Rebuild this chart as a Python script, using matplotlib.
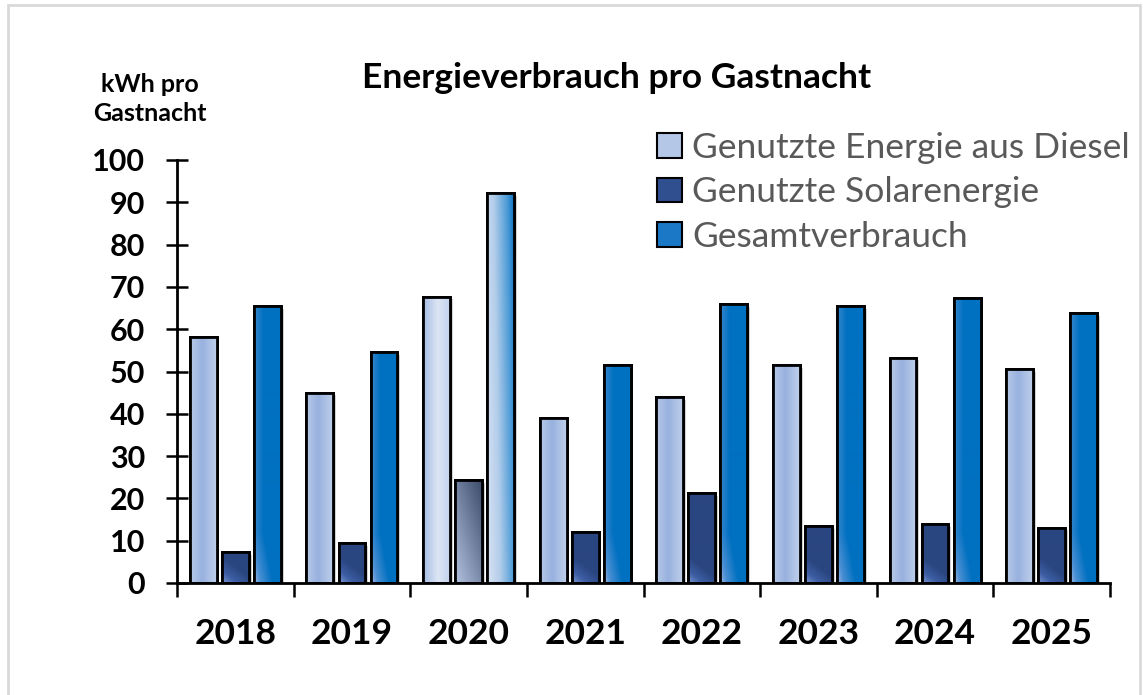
import numpy as np
import matplotlib.pyplot as plt
import matplotlib.patheffects as pe
from matplotlib.colors import LinearSegmentedColormap
from matplotlib.patches import Rectangle, Patch

plt.rcParams['font.family'] = ['Lato', 'DejaVu Sans']

jahre = ['2018', '2019', '2020', '2021', '2022', '2023', '2024', '2025']
diesel = [58.2, 45.0, 67.7, 38.9, 44.0, 51.5, 53.3, 50.6]
solar = [7.3, 9.5, 24.3, 12.1, 21.3, 13.5, 13.9, 13.1]
gesamt = [65.5, 54.5, 92.1, 51.5, 66.0, 65.5, 67.4, 63.8]
serien = ['Genutzte Energie aus Diesel', 'Genutzte Solarenergie', 'Gesamtverbrauch']
hervorgehoben = '2020'

# colour maps for the gradient fills
cm_diesel = LinearSegmentedColormap.from_list('d', ['#bccde9', '#98b1df'])
cm_diesel_h = LinearSegmentedColormap.from_list('dh', [(0, '#a4bbe4'), (0.55, '#dce5f4'), (1, '#c3d2ee')])
cm_solar = LinearSegmentedColormap.from_list('s', [(0, '#7d98d2'), (0.45, '#3d5ea4'), (1, '#2a4680')])
cm_solar_h = LinearSegmentedColormap.from_list('sh', ['#b4c3e0', '#3c4a6b'])
cm_gesamt = LinearSegmentedColormap.from_list('g', [(0, '#a3b9e3'), (0.35, '#4a8fd3'), (1, '#0070c0')])
cm_gesamt_h = LinearSegmentedColormap.from_list('gh', [(0, '#dae3f3'), (0.4, '#b2cdea'), (0.8, '#4a9ad6'), (1, '#0e72c0')])


def verlauf(art, w, h, hl):
    w = max(int(round(w)), 2)
    h = max(int(round(h)), 2)
    x, y = np.meshgrid(np.arange(w) + 0.5, np.arange(h) + 0.5)
    u = x / w
    if art == 0:
        t = 1 - np.abs(u - 0.45) * 2 if not hl else u
        cm = cm_diesel_h if hl else cm_diesel
    elif art == 1:
        if hl:
            t = (x + 0.3 * y) / (w + 0.3 * h)
            cm = cm_solar_h
        else:
            t = (x + 1.3 * y) / (1.3 * w)
            cm = cm_solar
    else:
        if hl:
            t = u * 0.8 + 0.2 * y / h
            cm = cm_gesamt_h
        else:
            t = 1.4 * u + np.minimum(y / 100, 0.5)
            cm = cm_gesamt
    return cm(np.clip(t, 0, 1))


fig = plt.figure(figsize=(11.43, 6.95), dpi=100)
ax = fig.add_axes([177 / 1143, 1 - 583 / 695, 933 / 1143, 423 / 695])
ax.set_xlim(0, len(jahre))
ax.set_ylim(0, 100)

# frame around the chart
fig.add_artist(Rectangle((8 / 1143, -0.05), 1132 / 1143, 1.043, transform=fig.transFigure,
                         fill=False, edgecolor='#d9d9d9', lw=2))

breite = 0.23
abstand = 0.275
x = np.arange(len(jahre)) + 0.5
mittel = ['#aabfe4', '#34559a', '#2a7fcb']
schatten = [pe.SimplePatchShadow(offset=(2, -2), shadow_rgbFace='#808080', alpha=0.35), pe.Normal()]

fig.canvas.draw()
px_x = ax.transData.transform((1, 0))[0] - ax.transData.transform((0, 0))[0]
px_y = ax.transData.transform((0, 1))[1] - ax.transData.transform((0, 0))[1]

for k, werte in enumerate([diesel, solar, gesamt]):
    pos = x + (k - 1) * abstand
    bars = ax.bar(pos, werte, breite, color=mittel[k], edgecolor='black', lw=2,
                  zorder=2, path_effects=schatten)
    for i, b in enumerate(bars):
        hl = jahre[i] == hervorgehoben
        img = verlauf(k, breite * px_x, werte[i] * px_y, hl)
        im = ax.imshow(img, extent=[pos[i] - breite / 2, pos[i] + breite / 2, 0, werte[i]],
                       origin='lower', aspect='auto', zorder=2.5, interpolation='bilinear')
        im.set_clip_path(b)
    ax.bar(pos, werte, breite, fill=False, edgecolor='black', lw=2, zorder=3)

ax.set_xlim(0, len(jahre))
ax.set_ylim(0, 100)

for s in ['top', 'right']:
    ax.spines[s].set_visible(False)
for s in ['left', 'bottom']:
    ax.spines[s].set_linewidth(2)

ax.set_yticks(range(0, 101, 10))
ax.tick_params(axis='y', direction='inout', length=16, width=1.8, pad=15, labelsize=22)
for t in ax.get_yticklabels():
    t.set_fontweight('bold')

ax.set_xticks(x)
ax.set_xticklabels(jahre, fontsize=25.5, fontweight='bold')
ax.set_xticks(range(len(jahre) + 1), minor=True)
ax.tick_params(axis='x', which='major', length=0, pad=25)
ax.tick_params(axis='x', which='minor', direction='out', length=10, width=1.8)

fig.text(150 / 1143, 1 - 99 / 695, 'kWh pro\nGastnacht', ha='center', va='center',
         fontsize=18, fontweight='bold', linespacing=1.35)
fig.text(617 / 1143, 1 - 78 / 695, 'Energieverbrauch pro Gastnacht', ha='center', va='center',
         fontsize=25.5, fontweight='bold')

handles = [Patch(facecolor=c, edgecolor='black', lw=1.5) for c in ['#b4c7e7', '#2f4f8f', '#1a78c6']]
ax.legend(handles, serien, loc='upper left', bbox_to_anchor=(657 / 1143, 1 - 132 / 695),
          bbox_transform=fig.transFigure, frameon=False, fontsize=25.5, labelcolor='#595959',
          handlelength=0.7, handleheight=0.7, handletextpad=0.3, labelspacing=0.35,
          borderaxespad=0, borderpad=0)

fig.savefig('out.png', dpi=100)
